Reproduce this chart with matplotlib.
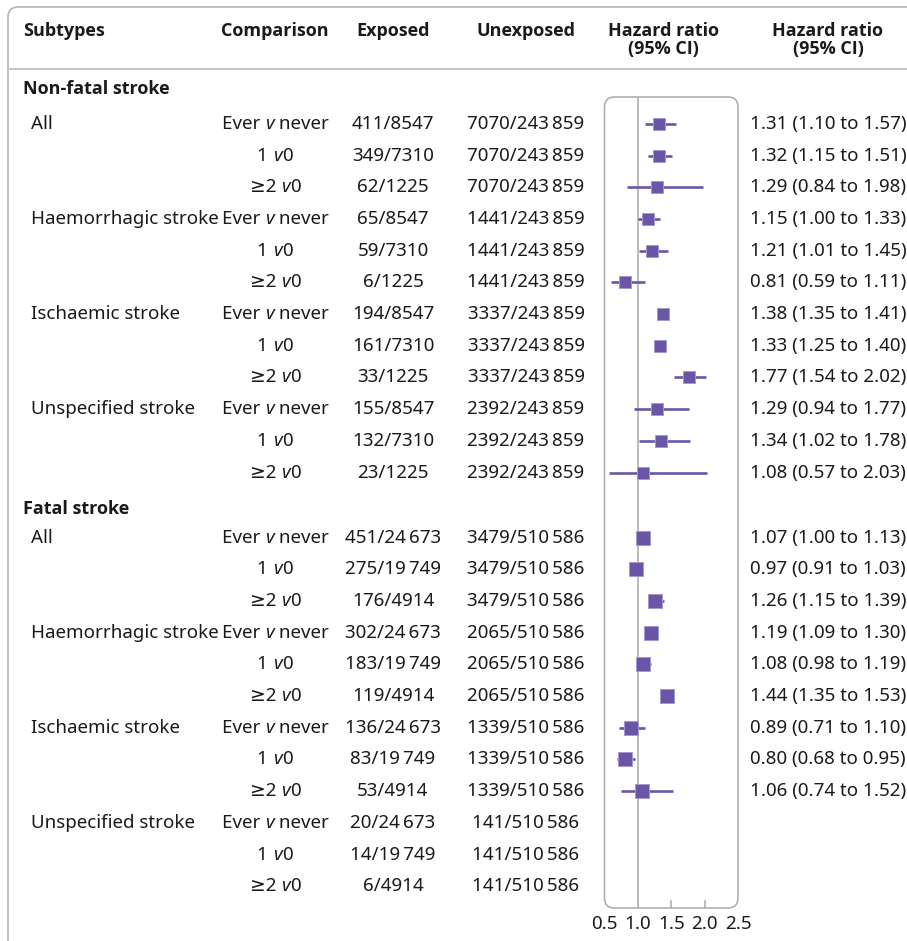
import numpy as np
import matplotlib
matplotlib.use("Agg")
import matplotlib.pyplot as plt
from matplotlib.patches import FancyBboxPatch
from matplotlib.offsetbox import TextArea, HPacker, AnnotationBbox

plt.rcParams['font.family'] = ['Noto Sans', 'DejaVu Sans']

# ---------------- data ----------------
groups = ["Non-fatal stroke", "Fatal stroke"]
subtypes = ["All", "Haemorrhagic stroke", "Ischaemic stroke", "Unspecified stroke"]
# comparison labels: (before, italic v, after)
comparisons = [("Ever ", "v", " never"), ("1 ", "v", "0"), ("\u22652 ", "v", "0")]
headers = ["Subtypes", "Comparison", "Exposed", "Unexposed",
           "Hazard ratio\n(95% CI)", "Hazard ratio\n(95% CI)"]

nonfatal_exposed = ["411/8547", "349/7310", "62/1225",
                    "65/8547", "59/7310", "6/1225",
                    "194/8547", "161/7310", "33/1225",
                    "155/8547", "132/7310", "23/1225"]
nonfatal_unexposed = ["7070/243\u2009859"] * 3 + ["1441/243\u2009859"] * 3 + \
                     ["3337/243\u2009859"] * 3 + ["2392/243\u2009859"] * 3
nonfatal_hr = [1.31, 1.32, 1.29, 1.15, 1.21, 0.81, 1.38, 1.33, 1.77, 1.29, 1.34, 1.08]
nonfatal_lo = [1.10, 1.15, 0.84, 1.00, 1.01, 0.59, 1.35, 1.25, 1.54, 0.94, 1.02, 0.57]
nonfatal_hi = [1.57, 1.51, 1.98, 1.33, 1.45, 1.11, 1.41, 1.40, 2.02, 1.77, 1.78, 2.03]

fatal_exposed = ["451/24\u2009673", "275/19\u2009749", "176/4914",
                 "302/24\u2009673", "183/19\u2009749", "119/4914",
                 "136/24\u2009673", "83/19\u2009749", "53/4914",
                 "20/24\u2009673", "14/19\u2009749", "6/4914"]
fatal_unexposed = ["3479/510\u2009586"] * 3 + ["2065/510\u2009586"] * 3 + \
                  ["1339/510\u2009586"] * 3 + ["141/510\u2009586"] * 3
fatal_hr = [1.07, 0.97, 1.26, 1.19, 1.08, 1.44, 0.89, 0.80, 1.06, np.nan, np.nan, np.nan]
fatal_lo = [1.00, 0.91, 1.15, 1.09, 0.98, 1.35, 0.71, 0.68, 0.74, np.nan, np.nan, np.nan]
fatal_hi = [1.13, 1.03, 1.39, 1.30, 1.19, 1.53, 1.10, 0.95, 1.52, np.nan, np.nan, np.nan]

x_ticks = [0.5, 1.0, 1.5, 2.0, 2.5]

# ---------------- layout ----------------
W, H = 907, 941
fig = plt.figure(figsize=(W / 100, H / 100), dpi=100)
ax = fig.add_axes([0, 0, 1, 1])
ax.set_xlim(0, W)
ax.set_ylim(H, 0)
ax.axis("off")

ROW0, ROWH = 89, 31.7      # pixel y of first group header, row height


def row_px(pos):
    return ROW0 + ROWH * pos


BOX = (604.5, 97, 738, 908)  # forest panel in pixels (x0, y0, x1, y1)
purple = "#6a55a6"
txt = "#1a1a1a"
grey = "#b5b5b5"
FS = 13.5
FAM = ["Noto Sans", "DejaVu Sans"]
bold = dict(family=["Open Sans", "DejaVu Sans"], fontweight="bold", fontsize=13, color=txt)

# outer border and header line
ax.add_patch(FancyBboxPatch((8, 7), 1000, 980, boxstyle="round,pad=0,rounding_size=10",
                            fc="none", ec=grey, lw=1.2))
ax.plot([8, W], [68.5, 68.5], color="#c4c4c4", lw=1.4)

# headers
col_x = [23, 275, 393, 526, 663, 828]
col_ha = ["left", "center", "center", "center", "center", "center"]
for h, x, ha in zip(headers, col_x, col_ha):
    ax.text(x, 22, h, ha=ha, va="top", linespacing=1.0, **bold)

# positions
group_pos = [0.0, 13.25]
row_start = [1.1, 14.15]
data_sets = [
    (nonfatal_exposed, nonfatal_unexposed, nonfatal_hr, nonfatal_lo, nonfatal_hi),
    (fatal_exposed, fatal_unexposed, fatal_hr, fatal_lo, fatal_hi),
]

# forest axes
fx = fig.add_axes([BOX[0] / W, 1 - BOX[3] / H, (BOX[2] - BOX[0]) / W, (BOX[3] - BOX[1]) / H])
fx.set_facecolor("none")
fx.set_xlim(x_ticks[0], x_ticks[-1])
fx.set_ylim((BOX[3] - ROW0) / ROWH, (BOX[1] - ROW0) / ROWH)
for s in fx.spines.values():
    s.set_visible(False)
fx.set_yticks([])
fx.set_xticks(x_ticks)
fx.set_xticklabels([f"{t:.1f}" for t in x_ticks], fontsize=FS, color=txt)
fx.tick_params(axis="x", length=0, pad=5)
fx.axvline(1.0, color="#a8a8a8", lw=1.1, zorder=1)
for t in x_ticks[2:4]:
    fx.axvline(t, ymin=0, ymax=7 / (BOX[3] - BOX[1]), color="#a8a8a8", lw=1.1)

ax.add_patch(FancyBboxPatch((BOX[0], BOX[1]), BOX[2] - BOX[0], BOX[3] - BOX[1],
                            boxstyle="round,pad=0,rounding_size=10",
                            fc="none", ec="#b0b0b0", lw=1.2))


def comparison_label(x, y, parts):
    areas = [TextArea(p, textprops=dict(fontsize=FS, color=txt, family=FAM,
                                        style="italic" if k == 1 else "normal"))
             for k, p in enumerate(parts)]
    box = HPacker(children=areas, align="baseline", pad=0, sep=0)
    ab = AnnotationBbox(box, (x, y), xycoords="data", box_alignment=(0.5, 0.5),
                        frameon=False, pad=0)
    ax.add_artist(ab)


for g, (gname, gp, rs, ds) in enumerate(zip(groups, group_pos, row_start, data_sets)):
    exposed, unexposed, hr, lo, hi = ds
    ax.text(23, row_px(gp), gname, ha="left", va="center", **bold)
    for i in range(12):
        pos = rs + i
        y = row_px(pos)
        if i % 3 == 0:
            ax.text(31, y, subtypes[i // 3], ha="left", va="center", fontsize=FS, color=txt)
        comparison_label(275, y, comparisons[i % 3])
        ax.text(393, y, exposed[i], ha="center", va="center", fontsize=FS, color=txt)
        ax.text(526, y, unexposed[i], ha="center", va="center", fontsize=FS, color=txt)
        if not np.isnan(hr[i]):
            fx.plot([lo[i], hi[i]], [pos, pos], color=purple, lw=1.9, solid_capstyle="butt", zorder=3)
            fx.plot([hr[i]], [pos], marker="s", ms=8.5 if g == 0 else 9.5, color=purple,
                    mec="#a598cc", mew=0.7, zorder=4)
            ax.text(750, y, f"{hr[i]:.2f} ({lo[i]:.2f} to {hi[i]:.2f})",
                    ha="left", va="center", fontsize=FS, color=txt)

fig.savefig("out.png", dpi=100)
